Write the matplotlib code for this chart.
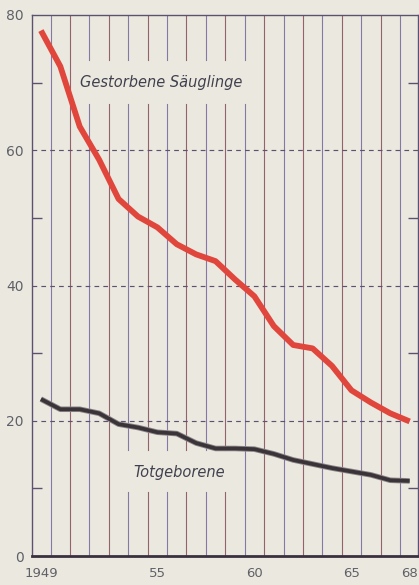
import matplotlib.pyplot as plt
import numpy as np

# data (per 1000 births)
years = list(range(1949, 1969))
saeuglinge = [77.7, 72.4, 63.5, 58.6, 52.8, 50.2, 48.6, 46.1, 44.6, 43.6,
              40.9, 38.4, 34.0, 31.2, 30.7, 28.1, 24.5, 22.7, 21.1, 19.9]
totgeborene = [23.2, 21.7, 21.7, 21.1, 19.5, 19.0, 18.3, 18.1, 16.7, 15.9,
               15.9, 15.8, 15.1, 14.2, 13.6, 13.0, 12.5, 12.0, 11.2, 11.1]
xtick_pos = [1949, 1955, 1960, 1965, 1968]
xtick_labels = ['1949', '55', '60', '65', '68']
ytick_pos = [0, 20, 40, 60, 80]

bg = '#ebe9df'
txt = '#606068'
fig = plt.figure(figsize=(4.19, 5.85), dpi=100, facecolor=bg)
ax = fig.add_axes([32/419, 29/585, 386/419, 541/585], facecolor=bg)
ax.set_xlim(1948.54, 1968.43)
ax.set_ylim(0, 80)

# vertical year-boundary lines, broken behind the two labels
line_cols = ['#8678a6', '#94626c']
for i, yr in enumerate(years[:-1]):
    x = yr + 0.5
    c = line_cols[i % 2]
    gaps = []
    if 1951.2 <= x <= 1959.7:
        gaps.append((66.9, 73.3))
    if 1953.2 <= x <= 1958.7:
        gaps.append((9.5, 15.7))
    segs = []
    lo = 0
    for g0, g1 in sorted(gaps):
        segs.append((lo, g0))
        lo = g1
    segs.append((lo, 80))
    for a, b in segs:
        ax.plot([x, x], [a, b], color=c, lw=0.8, zorder=1)

# dashed horizontal lines
for yv in [20, 40, 60]:
    ax.axhline(yv, color='#5e5070', lw=0.85, ls=(0, (4, 3.5)), zorder=1)

# series
ax.plot(years, totgeborene, color='#8a8488', lw=4.0, solid_capstyle='butt', zorder=3)
ax.plot(years, totgeborene, color='#3a3438', lw=2.7, solid_capstyle='butt', zorder=4)
ax.plot(years, saeuglinge, color='#e0463c', lw=4.2, solid_capstyle='butt', zorder=5)

ax.text(1955.2, 70.0, 'Gestorbene Säuglinge', style='italic', fontsize=10.5,
        color='#42404e', ha='center', va='center', zorder=6)
ax.text(1956.1, 12.4, 'Totgeborene', style='italic', fontsize=10.5,
        color='#42404e', ha='center', va='center', zorder=6)

# ticks
ax.set_xticks(xtick_pos)
ax.set_xticklabels(xtick_labels)
ax.set_yticks(ytick_pos)
ax.set_yticks([10, 30, 50, 70], minor=True)
ax.tick_params(axis='x', length=0, pad=8, labelsize=9.5, labelcolor=txt)
ax.tick_params(axis='y', which='major', length=0, pad=6, labelsize=10, labelcolor=txt)
ax.tick_params(axis='y', which='minor', direction='in', length=7, width=1,
               color='#5e5070', left=True, right=True)

for s in ['left', 'right', 'top']:
    ax.spines[s].set_color('#5e5070')
    ax.spines[s].set_linewidth(1)
ax.spines['bottom'].set_color('#3a3040')
ax.spines['bottom'].set_linewidth(2)

fig.savefig('out.png', dpi=100, facecolor=bg)
